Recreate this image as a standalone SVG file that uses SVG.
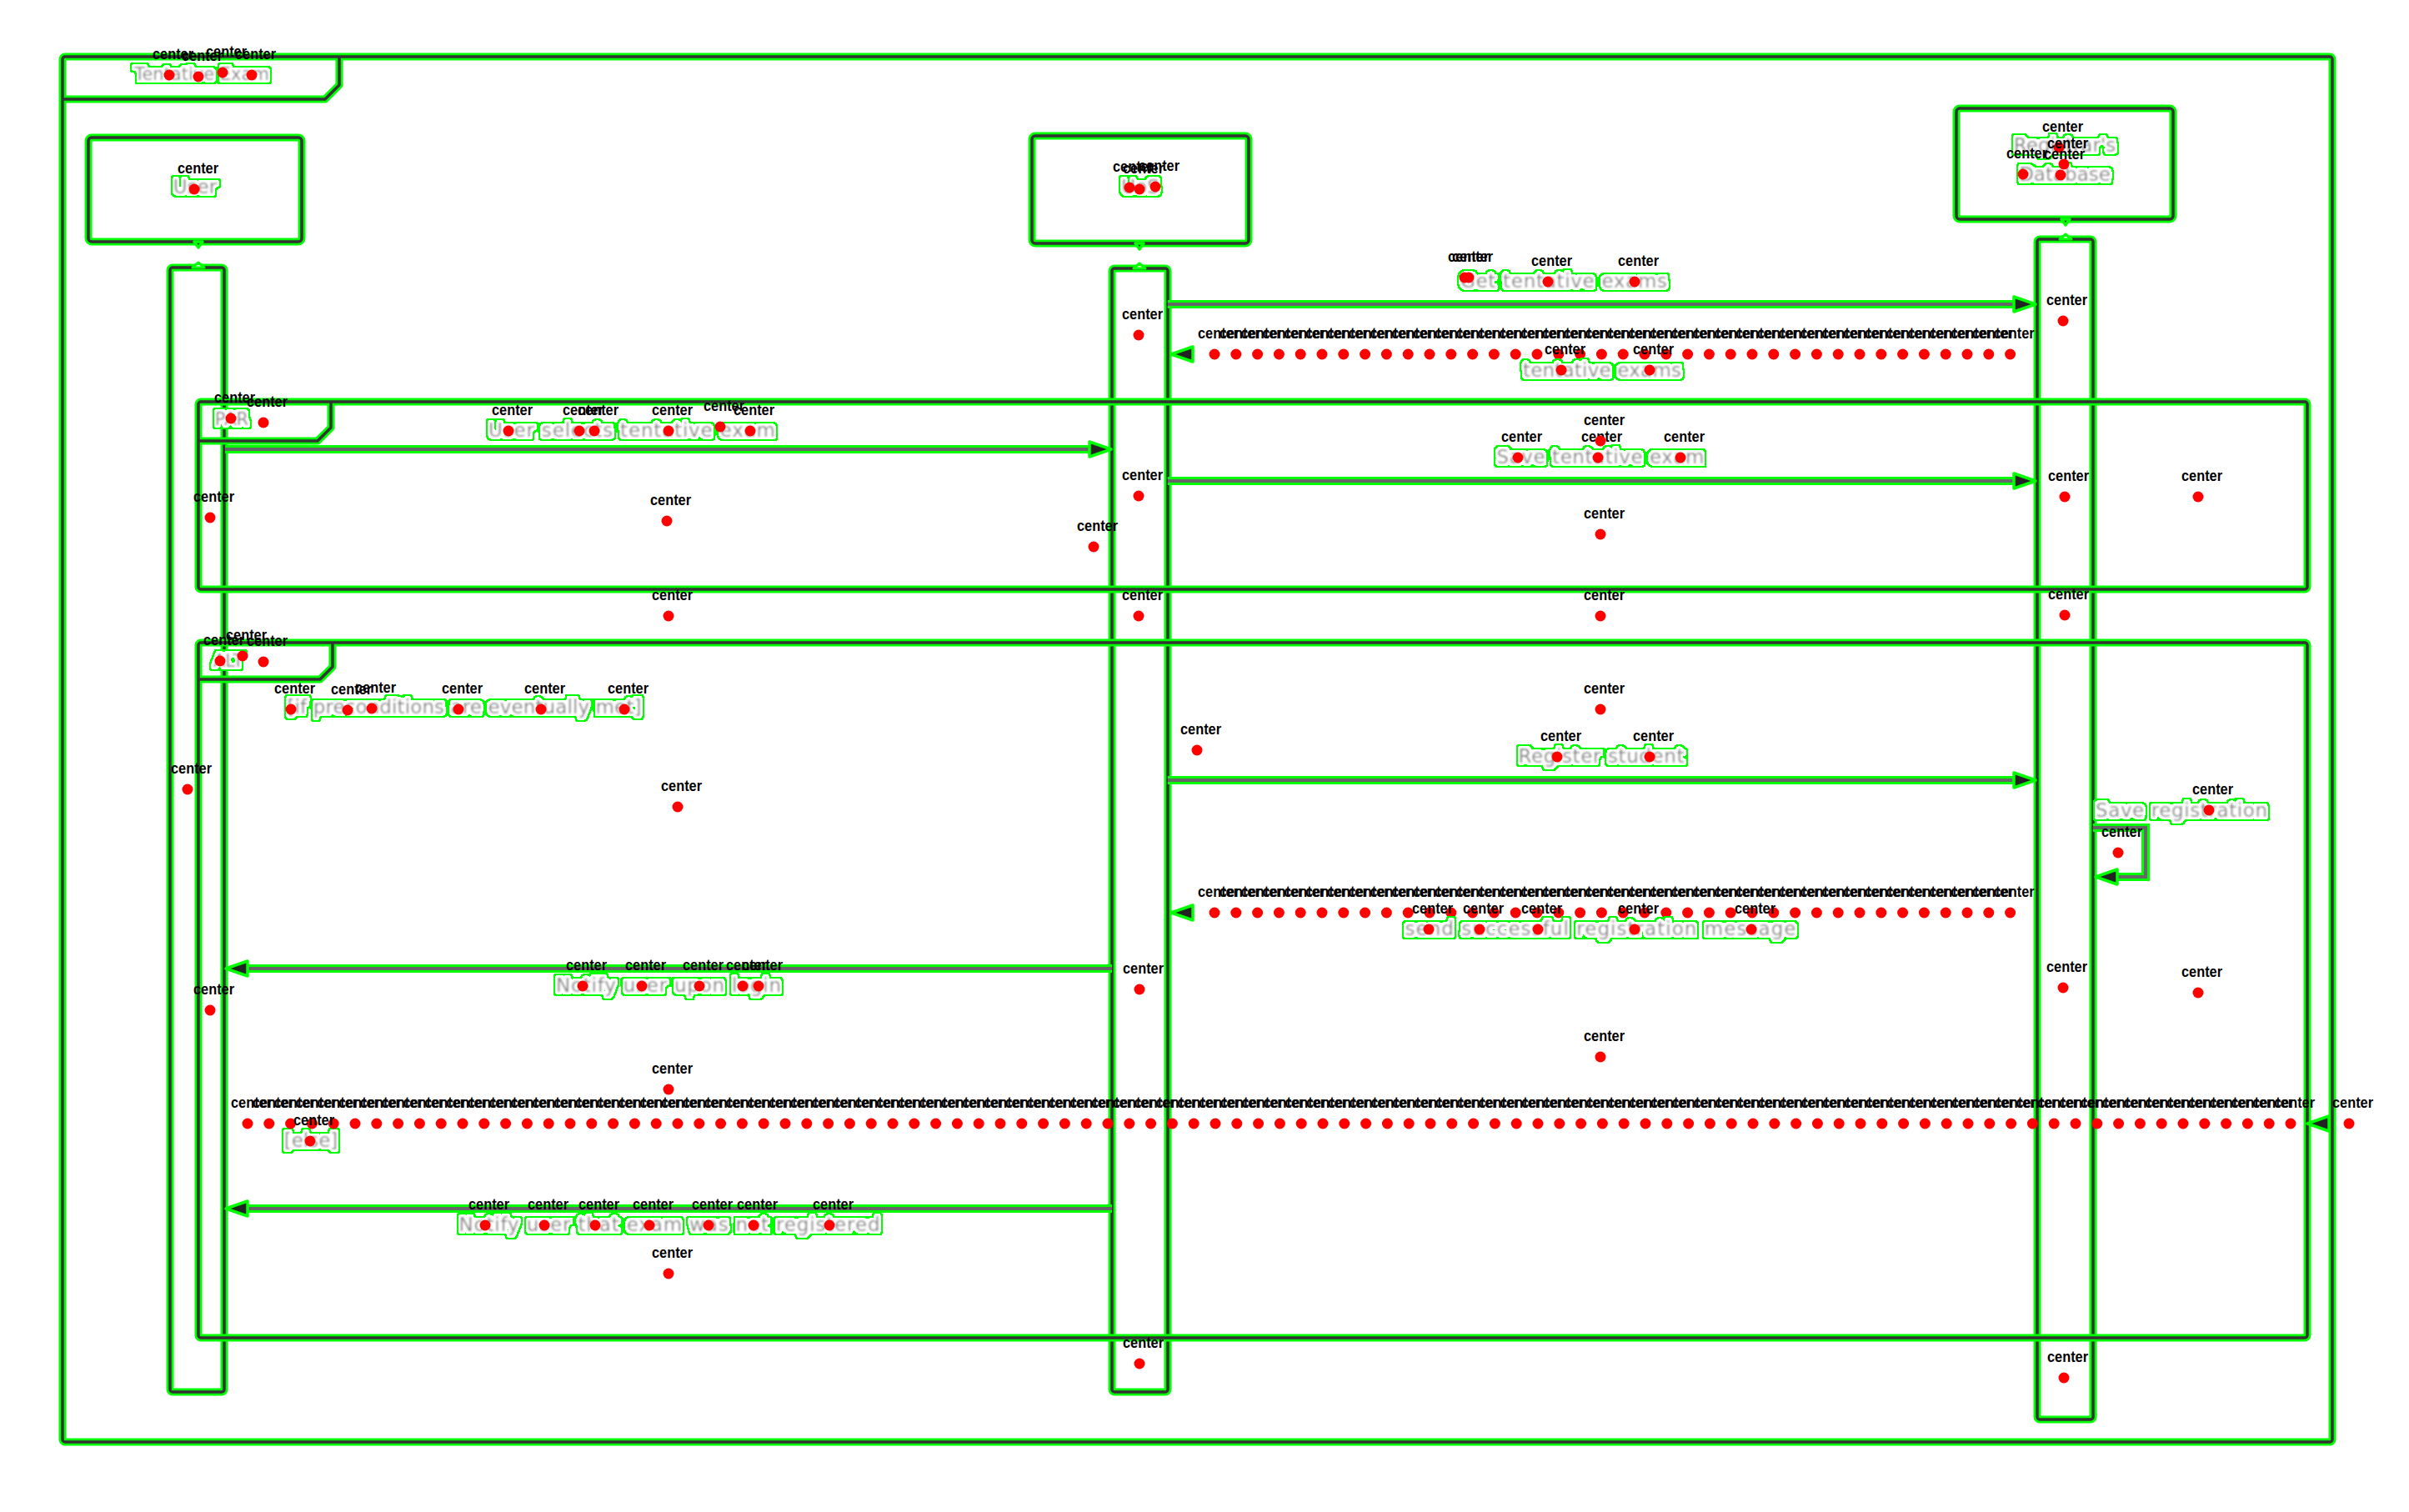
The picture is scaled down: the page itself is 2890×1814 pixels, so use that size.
<svg xmlns="http://www.w3.org/2000/svg" xmlns:xlink="http://www.w3.org/1999/xlink" width="2890" height="1814" viewBox="0 0 2890 1814">
<style>
.h{fill:none;stroke:#00ff00;stroke-width:9;stroke-linejoin:round}
.k{fill:none;stroke:#333;stroke-width:3.5;stroke-linejoin:round}
.bx{fill:#fff}
.mh{stroke:#00ff00;stroke-width:10;fill:none}
.m{stroke:#666;stroke-width:4;fill:none}
.ah{fill:#222;stroke:#00ff00;stroke-width:3.5;stroke-linejoin:round}
.nb{fill:#fff;stroke:#00ff00;stroke-width:3;stroke-linejoin:round}
.t{font-family:"DejaVu Sans","Liberation Sans",sans-serif;font-size:23px;text-anchor:middle;fill:#7d7d7d}
.tf{font-size:21px}
.c{font-family:"Liberation Sans",Arial,sans-serif;font-size:19px;font-weight:bold;fill:#000}
.dot{fill:#ff0000}
.rd{stroke:#ff0000;stroke-width:13;stroke-linecap:round;stroke-dasharray:0 25.8;fill:none}
</style>
<defs>
<filter id="halo" x="-20%" y="-70%" width="140%" height="240%">
<feMorphology in="SourceAlpha" operator="dilate" radius="4.5" result="o0"/>
<feGaussianBlur in="o0" stdDeviation="1.3" result="o1"/>
<feComponentTransfer in="o1" result="o"><feFuncA type="discrete" tableValues="0 1"/></feComponentTransfer>
<feMorphology in="SourceAlpha" operator="dilate" radius="2.5" result="i0"/>
<feGaussianBlur in="i0" stdDeviation="1.3" result="i1"/>
<feComponentTransfer in="i1" result="i"><feFuncA type="discrete" tableValues="0 1"/></feComponentTransfer>
<feFlood flood-color="#00ff00" result="gc"/>
<feComposite in="gc" in2="o" operator="in" result="g"/>
<feFlood flood-color="#ffffff" result="wc"/>
<feComposite in="wc" in2="i" operator="in" result="w"/>
<feGaussianBlur in="SourceGraphic" stdDeviation="0.8" result="s"/>
<feMerge><feMergeNode in="g"/><feMergeNode in="w"/><feMergeNode in="s"/></feMerge>
</filter>
<text id="c" class="c" x="-20" y="-19" textLength="49" lengthAdjust="spacingAndGlyphs">center</text>
<circle id="d" class="dot" r="6.5"/>
<g id="cd"><use href="#d"/><use href="#c"/></g>
<g id="c2"><use href="#c"/><use href="#c" x="25.8"/></g>
<g id="c8"><use href="#c2"/><use href="#c2" x="51.6"/><use href="#c2" x="103.2"/><use href="#c2" x="154.8"/></g>
<g id="c32"><use href="#c8"/><use href="#c8" x="206.4"/><use href="#c8" x="412.8"/><use href="#c8" x="619.2"/></g>
</defs>
<rect width="2890" height="1814" fill="#fff"/>

<g id="frame-tentative-exam">
<rect class="h" x="75" y="68" width="2723" height="1662" rx="3"/>
<path class="h" d="M75,119 H390 L407,102 V68"/>
<rect class="k" x="75" y="68" width="2723" height="1662" rx="3"/>
<path class="k" d="M75,119 H390 L407,102 V68"/>
<text class="t tf" x="242" y="96" filter="url(#halo)">Tentative Exam</text>
</g>

<g id="user">
<rect class="h bx" x="106" y="165" width="256" height="125" rx="4"/>
<rect class="k" x="106" y="165" width="256" height="125" rx="4"/>
<text class="t" x="234" y="232" filter="url(#halo)">User</text>
</g>
<g id="uos">
<rect class="h bx" x="1238" y="163" width="260" height="129" rx="4"/>
<rect class="k" x="1238" y="163" width="260" height="129" rx="4"/>
<text class="t" x="1368" y="232" filter="url(#halo)">UoS</text>
</g>
<g id="registrar-db">
<rect class="h bx" x="2347" y="130" width="260" height="133" rx="4"/>
<rect class="k" x="2347" y="130" width="260" height="133" rx="4"/>
<text class="t" x="2477" y="182" filter="url(#halo)">Registrar's</text>
<text class="t" x="2477" y="217" filter="url(#halo)">Database</text>
</g>

<g id="user-activation">
<rect class="h bx" x="204" y="321" width="65" height="1349" rx="3"/>
<rect class="k" x="204" y="321" width="65" height="1349" rx="3"/>
</g>
<g id="uos-activation">
<rect class="h bx" x="1334" y="322" width="67" height="1348" rx="3"/>
<rect class="k" x="1334" y="322" width="67" height="1348" rx="3"/>
</g>
<g id="registrar-activation">
<rect class="h bx" x="2444" y="287" width="67" height="1416" rx="3"/>
<rect class="k" x="2444" y="287" width="67" height="1416" rx="3"/>
</g>

<g id="frame-par">
<rect class="h" x="238" y="482" width="2530" height="225" rx="3"/>
<path class="h" d="M238,529 H381 L397,513 V482"/>
<rect class="k" x="238" y="482" width="2530" height="225" rx="3"/>
<path class="k" d="M238,529 H381 L397,513 V482"/>
<text class="t tf" x="278" y="510" filter="url(#halo)">PAR</text>
</g>
<g id="frame-alt">
<rect class="h" x="238" y="771" width="2530" height="834" rx="3"/>
<path class="h" d="M238,815 H384 L399,800 V771"/>
<rect class="k" x="238" y="771" width="2530" height="834" rx="3"/>
<path class="k" d="M238,815 H384 L399,800 V771"/>
<text class="t tf" x="274" y="800" filter="url(#halo)">ALT</text>
<text class="t" x="557" y="856" textLength="425" filter="url(#halo)">[if preconditions are eventually met]</text>
<text class="t" x="373" y="1376" filter="url(#halo)">[else]</text>
</g>

<g id="connectors">
<g id="lifeline-stubs">
<polygon class="ah" points="233,290 243,290 238,297"/>
<polygon class="nb" points="231,321 245,321 238,315"/>
<polygon class="ah" points="1362,292 1372,292 1367,299"/>
<polygon class="nb" points="1360,322 1374,322 1367,316"/>
<polygon class="ah" points="2473,263 2483,263 2478,270"/>
<polygon class="nb" points="2471,287 2485,287 2478,281"/>
</g>
<g id="msg-get-tentative-exams">
<line class="mh" x1="1401" y1="365" x2="2420" y2="365"/><line class="m" x1="1401" y1="365" x2="2420" y2="365"/>
<polygon class="ah" points="2442,365 2416,356 2416,374"/>
<text class="t" x="1876" y="345" textLength="248" filter="url(#halo)">Get tentative exams</text>
</g>
<g id="msg-tentative-exams">
<polygon class="ah" points="1405,425 1431,416 1431,434"/>
<line class="rd" x1="1457" y1="425" x2="2412" y2="425"/>
<text class="t" x="1922" y="452" textLength="190" filter="url(#halo)">tentative exams</text>
</g>
<g id="msg-user-selects">
<line class="mh" x1="270" y1="539" x2="1312" y2="539"/><line class="m" x1="270" y1="539" x2="1312" y2="539"/>
<polygon class="ah" points="1333,539 1307,530 1307,548"/>
<text class="t" x="758" y="524" textLength="344" filter="url(#halo)">User selects tentative exam</text>
</g>
<g id="msg-save-tentative-exam">
<line class="mh" x1="1401" y1="577" x2="2420" y2="577"/><line class="m" x1="1401" y1="577" x2="2420" y2="577"/>
<polygon class="ah" points="2442,577 2416,568 2416,586"/>
<text class="t" x="1920" y="556" textLength="249" filter="url(#halo)">Save tentative exam</text>
</g>
<g id="msg-register-student">
<line class="mh" x1="1401" y1="936" x2="2420" y2="936"/><line class="m" x1="1401" y1="936" x2="2420" y2="936"/>
<polygon class="ah" points="2442,936 2416,927 2416,945"/>
<text class="t" x="1921" y="915" textLength="199" filter="url(#halo)">Register student</text>
</g>
<g id="msg-save-registration">
<path class="mh" d="M2511,993 H2574 V1052 H2538"/><path class="m" d="M2511,993 H2574 V1052 H2538"/>
<polygon class="ah" points="2514,1052 2540,1043 2540,1061"/>
<text class="t" x="2617" y="980" textLength="206" filter="url(#halo)">Save registration</text>
</g>
<g id="msg-send-successful">
<polygon class="ah" points="1405,1095 1431,1086 1431,1104"/>
<line class="rd" x1="1457" y1="1095" x2="2412" y2="1095"/>
<text class="t" x="1920" y="1122" textLength="469" filter="url(#halo)">send successful registration message</text>
</g>
<g id="msg-notify-login">
<line class="mh" x1="294" y1="1162" x2="1334" y2="1162"/><line class="m" x1="294" y1="1162" x2="1334" y2="1162"/>
<polygon class="ah" points="271,1162 297,1153 297,1171"/>
<text class="t" x="802" y="1190" textLength="270" filter="url(#halo)">Notify user upon login</text>
</g>
<g id="else-separator">
<line class="rd" x1="297" y1="1348" x2="2748.5" y2="1348"/>
<polygon class="ah" points="2768,1348 2794,1339 2794,1357"/>
</g>
<g id="msg-notify-not-registered">
<line class="mh" x1="294" y1="1450" x2="1334" y2="1450"/><line class="m" x1="294" y1="1450" x2="1334" y2="1450"/>
<polygon class="ah" points="271,1450 297,1441 297,1459"/>
<text class="t" x="803" y="1477" textLength="505" filter="url(#halo)">Notify user that exam was not registered</text>
</g>
</g>

<g id="center-markers">
<use href="#c32" x="1457" y="425"/><use href="#c2" x="2282.6" y="425"/><use href="#c2" x="2334.2" y="425"/><use href="#c2" x="2385.8" y="425"/>
<use href="#c32" x="1457" y="1095"/><use href="#c2" x="2282.6" y="1095"/><use href="#c2" x="2334.2" y="1095"/><use href="#c2" x="2385.8" y="1095"/>
<use href="#c32" x="297" y="1348"/><use href="#c32" x="1122.6" y="1348"/><use href="#c32" x="1948.2" y="1348"/>
<use href="#cd" x="203" y="90"/><use href="#cd" x="238" y="92"/><use href="#cd" x="267" y="87"/><use href="#cd" x="302" y="90"/>
<use href="#cd" x="233" y="227"/>
<use href="#cd" x="1355" y="225"/><use href="#cd" x="1367" y="227"/><use href="#cd" x="1386" y="224"/>
<use href="#cd" x="2470" y="177"/><use href="#cd" x="2476" y="197"/><use href="#cd" x="2427" y="209"/><use href="#cd" x="2472" y="210"/>
<use href="#cd" x="1757" y="333"/><use href="#cd" x="1762" y="333"/><use href="#cd" x="1857" y="338"/><use href="#cd" x="1961" y="338"/>
<use href="#cd" x="1366" y="402"/><use href="#cd" x="2475" y="385"/>
<use href="#cd" x="1873" y="444"/><use href="#cd" x="1979" y="444"/>
<use href="#cd" x="277" y="502"/><use href="#cd" x="316" y="507"/>
<use href="#cd" x="610" y="517"/><use href="#cd" x="695" y="517"/><use href="#cd" x="713" y="517"/><use href="#cd" x="802" y="517"/><use href="#cd" x="864" y="512"/><use href="#cd" x="900" y="517"/>
<use href="#cd" x="1821" y="549"/><use href="#cd" x="1917" y="549"/><use href="#cd" x="1920" y="529"/><use href="#cd" x="2016" y="549"/>
<use href="#cd" x="252" y="621"/><use href="#cd" x="800" y="625"/><use href="#cd" x="1312" y="656"/><use href="#cd" x="1366" y="595"/><use href="#cd" x="1920" y="641"/><use href="#cd" x="2477" y="596"/><use href="#cd" x="2637" y="596"/>
<use href="#cd" x="802" y="739"/><use href="#cd" x="1366" y="739"/><use href="#cd" x="1920" y="739"/><use href="#cd" x="2477" y="738"/>
<use href="#cd" x="264" y="793"/><use href="#cd" x="291" y="787"/><use href="#cd" x="316" y="794"/>
<use href="#cd" x="349" y="851"/><use href="#cd" x="417" y="852"/><use href="#cd" x="446" y="850"/><use href="#cd" x="550" y="851"/><use href="#cd" x="649" y="851"/><use href="#cd" x="749" y="851"/>
<use href="#cd" x="1920" y="851"/><use href="#cd" x="225" y="947"/><use href="#cd" x="813" y="968"/><use href="#cd" x="1436" y="900"/>
<use href="#cd" x="1868" y="908"/><use href="#cd" x="1979" y="908"/>
<use href="#cd" x="2650" y="972"/><use href="#cd" x="2541" y="1023"/>
<use href="#cd" x="1714" y="1115"/><use href="#cd" x="1775" y="1115"/><use href="#cd" x="1845" y="1115"/><use href="#cd" x="1961" y="1115"/><use href="#cd" x="2101" y="1115"/>
<use href="#cd" x="699" y="1183"/><use href="#cd" x="770" y="1183"/><use href="#cd" x="839" y="1183"/><use href="#cd" x="891" y="1183"/><use href="#cd" x="910" y="1183"/>
<use href="#cd" x="252" y="1212"/><use href="#cd" x="1367" y="1187"/><use href="#cd" x="2475" y="1185"/><use href="#cd" x="2637" y="1191"/>
<use href="#cd" x="802" y="1307"/><use href="#cd" x="1920" y="1268"/>
<use href="#cd" x="372" y="1369"/>
<use href="#cd" x="2818" y="1348"/>
<use href="#cd" x="582" y="1470"/><use href="#cd" x="653" y="1470"/><use href="#cd" x="714" y="1470"/><use href="#cd" x="779" y="1470"/><use href="#cd" x="850" y="1470"/><use href="#cd" x="904" y="1470"/><use href="#cd" x="995" y="1470"/>
<use href="#cd" x="802" y="1528"/>
<use href="#cd" x="1367" y="1636"/><use href="#cd" x="2476" y="1653"/>
</g>
</svg>
